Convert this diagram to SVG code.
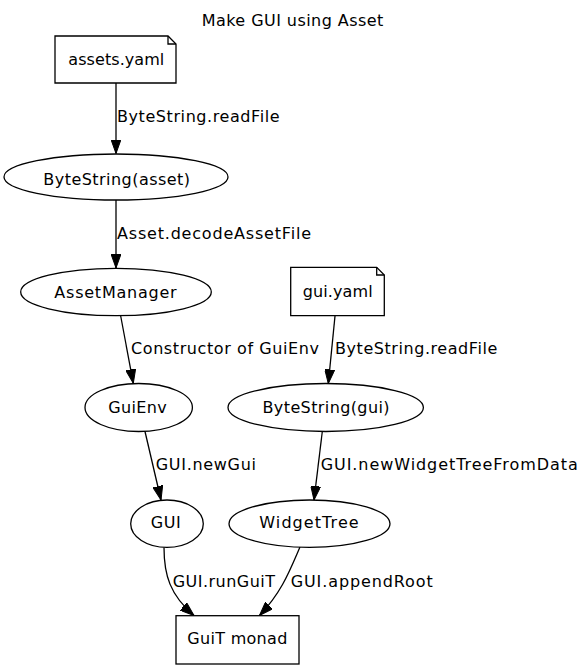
<svg xmlns="http://www.w3.org/2000/svg" width="586" height="669" viewBox="0 0 586 669">
<style>
text{font-family:"DejaVu Sans","Noto Sans",sans-serif;font-size:16px;fill:#000}
.c{text-anchor:middle}
.n{fill:#fff;stroke:#000;stroke-width:1.3}
.e{fill:none;stroke:#000;stroke-width:1.3;marker-end:url(#ah)}
</style>
<defs>
<marker id="ah" markerUnits="userSpaceOnUse" viewBox="0 0 14 10" markerWidth="14" markerHeight="10" refX="14" refY="5" orient="auto">
<path d="M0,0 L14,5 L0,10 Z" fill="#000" stroke="#000" stroke-width="1"/>
</marker>
</defs>
<rect width="586" height="669" fill="#fff"/>
<text class="c" x="292.5" y="25.5" textLength="181.6">Make GUI using Asset</text>
<g id="connectors">
<path class="e" d="M116,83 V153.5"/>
<path class="e" d="M116,200 V268"/>
<path class="e" d="M120.7,316 L133.3,383.3"/>
<path class="e" d="M335,316 L328.3,383.5"/>
<path class="e" d="M145,431.5 L161,500"/>
<path class="e" d="M322.3,431.5 L314,500"/>
<path class="e" d="M164,547.5 C164,575 170,595 194,615.5"/>
<path class="e" d="M300,547 C290,570 282,592 259.5,615.5"/>
<text x="117" y="238.5" textLength="194">Asset.decodeAssetFile</text>
<text x="117" y="122" textLength="162.6">ByteString.readFile</text>
<text x="131" y="354.3" textLength="188">Constructor of GuiEnv</text>
<text x="335" y="354.3" textLength="162.3">ByteString.readFile</text>
<text x="155.7" y="470" textLength="100.3">GUI.newGui</text>
<text x="320.7" y="470" textLength="257">GUI.newWidgetTreeFromData</text>
<text x="172.7" y="586.7" textLength="102.3">GUI.runGuiT</text>
<text x="290.7" y="586.7" textLength="142">GUI.appendRoot</text>
</g>
<g id="assets_yaml">
<path class="n" d="M55,36 H168 L176,44 V83 H55 Z"/>
<path d="M168,36 V44 H176" fill="none" stroke="#000" stroke-width="1.3"/>
<text class="c" x="116.3" y="65" textLength="96">assets.yaml</text>
</g>
<g id="bytestring_asset">
<ellipse class="n" cx="116" cy="177" rx="112" ry="23"/>
<text class="c" x="116.7" y="185" textLength="146.7">ByteString(asset)</text>
</g>
<g id="asset_manager">
<ellipse class="n" cx="116" cy="292" rx="95.3" ry="23.7"/>
<text class="c" x="115.5" y="298" textLength="122.4">AssetManager</text>
</g>
<g id="gui_yaml">
<path class="n" d="M290.7,267.3 H376.7 L384.3,275 V315.7 H290.7 Z"/>
<path d="M376.7,267.3 V275 H384.3" fill="none" stroke="#000" stroke-width="1.3"/>
<text class="c" x="337.7" y="297.3" textLength="70">gui.yaml</text>
</g>
<g id="gui_env">
<ellipse class="n" cx="138.7" cy="407.5" rx="53.7" ry="24"/>
<text class="c" x="137.5" y="413.3" textLength="58.4">GuiEnv</text>
</g>
<g id="bytestring_gui">
<ellipse class="n" cx="325.7" cy="407.5" rx="97.7" ry="24"/>
<text class="c" x="326" y="413.3" textLength="127">ByteString(gui)</text>
</g>
<g id="gui">
<ellipse class="n" cx="167" cy="523.7" rx="36.3" ry="23.7"/>
<text class="c" x="165.7" y="528.3" textLength="30">GUI</text>
</g>
<g id="widget_tree">
<ellipse class="n" cx="309.5" cy="523.7" rx="80.5" ry="23.7"/>
<text class="c" x="309" y="528.3" textLength="99.4">WidgetTree</text>
</g>
<g id="guit_monad">
<rect class="n" x="176" y="615.7" width="123" height="48.3"/>
<text class="c" x="237.3" y="644" textLength="100">GuiT monad</text>
</g>
</svg>
